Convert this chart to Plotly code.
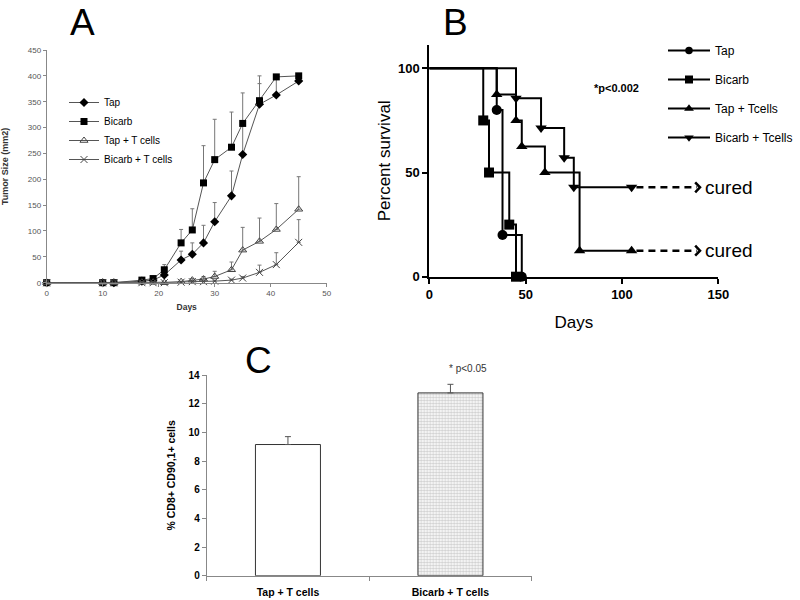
import plotly.graph_objects as go

# ---------------- Panel A data ----------------
days_a = [0, 10, 12, 17, 19, 21, 24, 26, 28, 30, 33, 35, 38, 41, 45]
tap = [0, 0, 0, 3, 5, 15, 44, 55, 77, 118, 168, 248, 345, 363, 390]
tap_err = [0, 0, 0, 1, 2, 10, 17, 22, 34, 37, 48, 57, 40, 30, 0]
bicarb = [0, 0, 0, 5, 8, 25, 77, 102, 193, 238, 262, 308, 352, 398, 400]
bicarb_err = [0, 0, 0, 2, 3, 10, 26, 41, 72, 78, 68, 59, 48, 2, 0]
tap_t = [0, 0, 0, 1, 1, 0, 2, 5, 7, 12, 25, 63, 80, 103, 142]
tap_t_err = [0, 0, 0, 0, 0, 0, 1, 3, 5, 10, 15, 44, 45, 50, 63]
bicarb_t = [0, 0, 0, 0, 0, 0, 1, 2, 2, 3, 5, 9, 20, 35, 78]
bicarb_t_err = [0, 0, 0, 0, 0, 0, 0, 1, 1, 2, 2, 3, 14, 23, 44]
names_a = ["Tap", "Bicarb", "Tap + T cells", "Bicarb + T cells"]

# ---------------- Panel B data (Kaplan-Meier steps) ----------------
km_tap_x = [0, 35, 38, 48]
km_tap_y = [100, 80, 20, 0]
km_bicarb_x = [0, 28, 31, 41.5, 45]
km_bicarb_y = [100, 75, 50, 25, 0]
km_tapt_x = [0, 35, 45, 48, 60, 78, 105]
km_tapt_y = [100, 87.5, 75, 62.5, 50, 12.5, 12.5]
km_bict_x = [0, 45, 58, 70, 75, 105]
km_bict_y = [100, 85.7, 71.4, 57.1, 42.9, 42.9]
names_b = ["Tap", "Bicarb", "Tap + Tcells", "Bicarb + Tcells"]

# ---------------- Panel C data ----------------
cats_c = ["Tap + T cells", "Bicarb + T cells"]
vals_c = [9.15, 12.75]
errs_c = [0.55, 0.6]

W, H = 800, 600
def px_x(p):
    return p / W
def px_y(p):
    return 1 - p / H

FONT = "Liberation Sans, Arial, sans-serif"
fig = go.Figure()

# ---------- Panel A traces ----------
grey_line = dict(color="#555555", width=1)
err_style = dict(type="data", symmetric=False, color="#777777", thickness=1, width=2)
specs_a = [
    (tap, tap_err, dict(symbol="diamond", size=7, color="black")),
    (bicarb, bicarb_err, dict(symbol="square", size=7, color="black")),
    (tap_t, tap_t_err, dict(symbol="triangle-up-open", size=7, color="#444444", line=dict(width=1, color="#444444"))),
    (bicarb_t, bicarb_t_err, dict(symbol="x-thin-open", size=7, color="#444444", line=dict(width=1, color="#444444"))),
]
for name, (vals, errs, mk) in zip(names_a, specs_a):
    fig.add_trace(go.Scatter(
        x=days_a, y=vals, name=name, mode="lines+markers",
        line=grey_line, marker=mk,
        error_y=dict(err_style, array=errs, arrayminus=[0] * len(errs)),
        xaxis="x", yaxis="y", legend="legend", cliponaxis=False,
    ))

# ---------- Panel B traces ----------
specs_b = [
    (km_tap_x, km_tap_y, "circle"),
    (km_bicarb_x, km_bicarb_y, "square"),
    (km_tapt_x, km_tapt_y, "triangle-up"),
    (km_bict_x, km_bict_y, "triangle-down"),
]
for i, (name, (xs, ys, sym)) in enumerate(zip(names_b, specs_b)):
    sizes = [0] + [10] * (len(xs) - 1)
    fig.add_trace(go.Scatter(
        x=xs, y=ys, name=name, mode="lines+markers",
        line=dict(color="black", width=2, shape="hv"),
        marker=dict(symbol=sym, size=sizes, color="black", opacity=1,
                    line=dict(width=0, color="black")),
        xaxis="x2", yaxis="y2", legend="legend2", legendgroup=f"g{i}",
        cliponaxis=False,
    ))

# cured arrows (dashed) for the two surviving groups
annotations = []
for xs, ys in [(km_bict_x, km_bict_y), (km_tapt_x, km_tapt_y)]:
    x0, y0 = xs[-1], ys[-1]
    fig.add_trace(go.Scatter(
        x=[x0 + 2.5, x0 + 34], y=[y0, y0], mode="lines",
        line=dict(color="black", width=2.5, dash="7px,5px"),
        xaxis="x2", yaxis="y2", showlegend=False, hoverinfo="skip", cliponaxis=False,
    ))
    fig.add_trace(go.Scatter(
        x=[x0 + 33, x0 + 35.5, x0 + 33], y=[y0 + 2.4, y0, y0 - 2.4], mode="lines",
        line=dict(color="black", width=2.5),
        xaxis="x2", yaxis="y2", showlegend=False, hoverinfo="skip", cliponaxis=False,
    ))
    annotations.append(dict(
        x=x0 + 37, y=y0, xref="x2", yref="y2", text="cured", showarrow=False,
        xanchor="left", yanchor="middle", font=dict(family=FONT, size=19, color="black"),
    ))

annotations.append(dict(
    x=97, y=90.5, xref="x2", yref="y2", text="*p<0.002", showarrow=False,
    font=dict(family=FONT, size=11, color="black", weight="bold"),
))

# ---------- Panel C ----------
fig.add_trace(go.Bar(
    x=cats_c, y=vals_c, width=0.4,
    marker=dict(
        color=["white", "#cfcfcf"],
        line=dict(color="#333333", width=1),
        pattern=dict(shape=["", "."], fgcolor="#6e6e6e", bgcolor="#e2e2e2", size=3, solidity=0.5),
    ),
    error_y=dict(type="data", symmetric=False, array=errs_c, arrayminus=[0, 0],
                 color="#555555", thickness=1, width=3),
    xaxis="x3", yaxis="y3", showlegend=False,
))
annotations.append(dict(
    x=cats_c[1], y=vals_c[1] + errs_c[1], xref="x3", yref="y3", text="* p<0.05",
    showarrow=False, xanchor="center", yanchor="bottom", xshift=18, yshift=8,
    font=dict(family=FONT, size=10, color="#333333"),
))

# panel letters
for letter, (lx, ly) in zip(["A", "B", "C"], [(82, 0), (455, 0), (258, 338)]):
    annotations.append(dict(
        x=px_x(lx), y=px_y(ly), xref="paper", yref="paper", text=letter, showarrow=False,
        xanchor="center", yanchor="top", font=dict(family=FONT, size=37, color="black"),
    ))

axA_common = dict(showline=True, linecolor="#888888", linewidth=1, ticks="outside",
                  ticklen=3, tickcolor="#888888", showgrid=False, zeroline=False, automargin=False,
                  tickfont=dict(family=FONT, size=8, color="#555555"))
axB_common = dict(showline=True, linecolor="black", linewidth=2, ticks="outside",
                  ticklen=5, tickwidth=2, tickcolor="black", showgrid=False, zeroline=False, automargin=False,
                  tickfont=dict(family=FONT, size=13, color="black", weight="bold"))
axC_common = dict(showline=True, linecolor="#888888", linewidth=1, ticks="outside",
                  ticklen=4, tickcolor="#888888", showgrid=False, zeroline=False, automargin=False,
                  tickfont=dict(family=FONT, size=10.5, color="black", weight="bold"))

fig.update_layout(
    template="none",
    width=W, height=H, margin=dict(l=0, r=0, t=0, b=0, autoexpand=False),
    paper_bgcolor="white", plot_bgcolor="white",
    font=dict(family=FONT, color="black"),
    xaxis=dict(axA_common, domain=[px_x(46.7), px_x(326.7)], range=[0, 50], dtick=10,
               anchor="y",
               title=dict(text="<b>Days</b>", font=dict(family=FONT, size=8.5, color="#333333"), standoff=6)),
    yaxis=dict(axA_common, domain=[px_y(282.7), px_y(50)], range=[0, 450], dtick=50,
               anchor="x",
               title=dict(text="<b>Tumor Size (mm2)</b>", font=dict(family=FONT, size=9, color="#333333"), standoff=18)),
    xaxis2=dict(axB_common, domain=[px_x(429.3), px_x(718.3)], range=[0, 150], dtick=50,
                anchor="y2",
                title=dict(text="Days", font=dict(family=FONT, size=17, color="black"), standoff=15)),
    yaxis2=dict(axB_common, domain=[px_y(276.7), px_y(45)], range=[0, 111.2],
                tickvals=[0, 50, 100], anchor="x2",
                title=dict(text="Percent survival", font=dict(family=FONT, size=17, color="black"), standoff=3)),
    xaxis3=dict(axC_common, domain=[px_x(206.7), px_x(531.7)], range=[-0.5, 1.5],
                type="category", tickson="boundaries", anchor="y3", ticklabelstandoff=7),
    yaxis3=dict(axC_common, domain=[px_y(575.7), px_y(375)], range=[0, 14], dtick=2,
                anchor="x3", tickfont=dict(family=FONT, size=10, color="black", weight="bold"),
                title=dict(text="<b>% CD8+ CD90,1+ cells</b>", font=dict(family=FONT, size=10.5, color="black"), standoff=10)),
    legend=dict(x=px_x(64), y=px_y(88), xanchor="left", yanchor="top",
                bgcolor="rgba(0,0,0,0)", font=dict(family=FONT, size=10, color="black"),
                itemwidth=30, tracegroupgap=0),
    legend2=dict(x=px_x(663), y=px_y(36), xanchor="left", yanchor="top",
                 bgcolor="rgba(0,0,0,0)", font=dict(family=FONT, size=12, color="black"),
                 itemwidth=42, tracegroupgap=10),
    annotations=annotations,
    showlegend=True,
)

fig.write_html(
    "out.html",
    config={"displayModeBar": False},
    post_script="document.body.style.margin='0';document.body.style.padding='0';",
)
